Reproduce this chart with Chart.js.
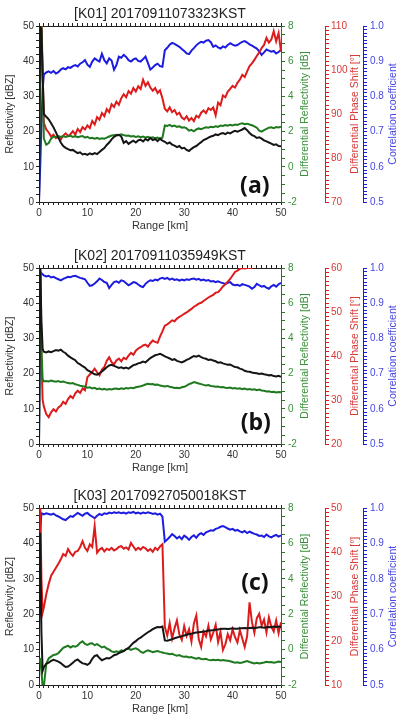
<!DOCTYPE html>
<html>
<head>
<meta charset="utf-8">
<script src="https://cdn.jsdelivr.net/npm/chart.js@4.4.1/dist/chart.umd.min.js"></script>
<style>
  html, body { margin: 0; padding: 0; background: #fff; }
  body { width: 413px; height: 724px; position: relative; overflow: hidden; }
  canvas { position: absolute; left: 0; }
</style>
</head>
<body>
<canvas id="chartA" width="413" height="241" style="top:0px"></canvas>
<canvas id="chartB" width="413" height="241" style="top:242px"></canvas>
<canvas id="chartC" width="413" height="242" style="top:482px"></canvas>
<script>
// range gates [km]: 0 .. 0.75 by 0.25, then 1 .. 50 by 0.5
const rangeKm = [0, 0.25, 0.5, 0.75,
  1, 1.5, 2, 2.5, 3, 3.5, 4, 4.5, 5, 5.5,
  6, 6.5, 7, 7.5, 8, 8.5, 9, 9.5, 10, 10.5,
  11, 11.5, 12, 12.5, 13, 13.5, 14, 14.5, 15, 15.5,
  16, 16.5, 17, 17.5, 18, 18.5, 19, 19.5, 20, 20.5,
  21, 21.5, 22, 22.5, 23, 23.5, 24, 24.5, 25, 25.5,
  26, 26.5, 27, 27.5, 28, 28.5, 29, 29.5, 30, 30.5,
  31, 31.5, 32, 32.5, 33, 33.5, 34, 34.5, 35, 35.5,
  36, 36.5, 37, 37.5, 38, 38.5, 39, 39.5, 40, 40.5,
  41, 41.5, 42, 42.5, 43, 43.5, 44, 44.5, 45, 45.5,
  46, 46.5, 47, 47.5, 48, 48.5, 49, 49.5, 50];

// ---- (a) K01 ----
const aZh = [0, 50, 49, 36,
  25, 24.2, 23.5, 22.4, 21.2, 19.8, 18.3, 16.9, 15.9, 15.4,
  15.0, 14.7, 14.8, 14.3, 13.9, 14.1, 13.5, 13.7, 13.4, 13.8,
  13.5, 13.9, 13.6, 14.2, 14.8, 15.3, 16.2, 16.9, 17.8, 18.5,
  18.9, 19.1, 18.6, 16.8, 17.3, 16.5, 17.0, 17.4, 16.9, 17.5,
  17.7, 17.2, 17.9, 17.5, 18.2, 17.6, 17.9, 17.3, 18.0, 17.4,
  17.1, 16.6, 16.9, 16.3, 16.0, 15.6, 15.9, 15.2, 15.4, 14.8,
  14.5, 15.1, 15.6, 15.9, 16.5, 17.0, 17.6, 17.9, 18.3, 18.6,
  18.8, 19.2, 19.0, 19.4, 19.6, 19.3, 19.7, 19.5, 19.9, 20.2,
  20.0, 20.3, 20.6, 21.0, 20.4, 19.6, 19.0, 18.7, 18.2, 18.4,
  18.0, 17.5, 17.2, 16.9, 16.6, 16.2, 16.4, 15.9, 15.8];
const aZdr = [-2, 8, 8, 5,
  1.6, 1.25, 1.35, 1.6, 1.72, 1.68, 1.75, 1.7, 1.74, 1.69,
  1.73, 1.76, 1.7, 1.74, 1.68, 1.72, 1.75, 1.66, 1.7, 1.62,
  1.65, 1.6, 1.64, 1.58, 1.62, 1.6, 1.66, 1.72, 1.78, 1.8,
  1.82, 1.79, 1.84, 1.8, 1.76, 1.78, 1.72, 1.75, 1.7, 1.73,
  1.68, 1.72, 1.66, 1.7, 1.64, 1.68, 1.62, 1.66, 1.6, 1.65,
  2.35, 2.32, 2.38, 2.3, 2.34, 2.27, 2.3, 2.22, 2.25, 2.18,
  2.05, 2.1, 2.02, 2.12, 2.18, 2.14, 2.2, 2.25, 2.22, 2.28,
  2.25, 2.3, 2.27, 2.35, 2.32, 2.37, 2.33, 2.38, 2.35, 2.4,
  2.38, 2.44, 2.47, 2.42, 2.45, 2.4, 2.36, 2.3, 2.22, 2.05,
  2.0, 2.08, 2.15, 2.22, 2.25, 2.2, 2.26, 2.23, 2.28];
const aPhi = [112, 112, 112, 100,
  88, 86.5, 85.8, 84.9, 85.3, 84.5, 84.8, 84.2, 85.1, 85.6,
  85.0, 85.4, 86.1, 85.3, 86.6, 85.9, 87.0, 86.5, 87.4, 86.8,
  88.4, 87.6, 89.3, 88.7, 90.2, 89.5, 91.1, 90.4, 92.2, 91.6,
  92.8, 92.1, 93.6, 94.5, 93.8, 95.2, 94.6, 95.9, 95.1, 96.3,
  95.7, 97.8, 96.4, 97.2, 96.0, 95.3, 95.9, 94.8, 95.4, 93.6,
  91.2, 90.6, 91.5, 90.4, 90.9, 89.9, 90.3, 89.2, 88.8, 89.5,
  88.5, 89.1, 88.4, 89.6, 89.2, 90.3, 90.8, 90.2, 91.3, 90.9,
  91.5, 89.7, 92.6, 92.0, 94.2, 93.8, 95.1, 95.7, 96.4, 96.0,
  97.1, 97.8, 98.9, 98.4, 99.7, 100.9, 101.5, 102.3, 103.2, 104.0,
  105.0, 105.7, 107.3, 106.2, 106.9, 108.8, 106.5, 108.4, 104.2];
const aRho = [0.5, 0.6, 0.72, 0.82,
  0.862, 0.868, 0.871, 0.867, 0.872, 0.865, 0.869, 0.876, 0.88, 0.877,
  0.883, 0.881, 0.886, 0.889, 0.885, 0.893, 0.897, 0.903, 0.89, 0.884,
  0.899, 0.908, 0.903, 0.899, 0.921, 0.903, 0.894, 0.908, 0.902, 0.876,
  0.889, 0.913, 0.91, 0.918, 0.912, 0.903, 0.899, 0.905, 0.908, 0.901,
  0.899, 0.906, 0.913, 0.895, 0.876, 0.882, 0.889, 0.893, 0.886, 0.884,
  0.931, 0.938, 0.947, 0.952, 0.949, 0.945, 0.941, 0.935, 0.929, 0.922,
  0.92, 0.93, 0.937, 0.945, 0.951, 0.955, 0.953, 0.958, 0.96, 0.954,
  0.941, 0.945, 0.939, 0.936, 0.942, 0.939, 0.946, 0.951, 0.947, 0.944,
  0.946, 0.951, 0.955, 0.957, 0.953, 0.948, 0.944, 0.94, 0.936, 0.928,
  0.918, 0.925, 0.933, 0.93, 0.927, 0.929, 0.922, 0.926, 0.932];

// ---- (b) K02 ----
const bZh = [0, 50, 35, 27,
  26.2, 26.0, 26.3, 26.1, 26.4, 26.7, 26.5, 26.8, 26.2, 25.8,
  25.1, 24.6, 24.2, 23.8, 23.0, 22.6, 22.1, 21.7, 21.0, 20.6,
  20.2, 19.8, 19.7, 20.1, 20.6, 21.2, 21.8, 22.3, 22.5, 22.2,
  21.9, 21.6, 21.8, 21.5, 21.7, 21.4, 21.9, 22.4, 22.6, 22.9,
  23.1, 23.4, 23.2, 23.8, 24.4, 24.8, 25.2, 25.4, 25.6, 25.3,
  24.9, 24.6, 24.3, 23.9, 24.1, 23.6, 23.4, 23.2, 23.5, 23.9,
  24.2, 24.6, 25.0, 24.8, 25.1, 24.7, 24.4, 24.2, 23.9, 24.0,
  23.7, 23.5, 23.1, 23.2, 22.9, 22.7, 22.5, 22.6, 22.2, 21.9,
  21.8, 21.4, 21.2, 20.8, 20.6, 20.5, 20.3, 20.2, 20.1, 19.9,
  20.0, 19.8, 19.7, 19.5, 19.6, 19.3, 19.2, 19.4, 19.1];
const bZdr = [-2, 8, 3.5, 1.7,
  1.56, 1.58, 1.55, 1.6, 1.57, 1.54, 1.58, 1.52, 1.55, 1.5,
  1.47, 1.44, 1.46, 1.39, 1.36, 1.31, 1.28, 1.25, 1.2, 1.22,
  1.16, 1.19, 1.12, 1.15, 1.1, 1.13, 1.08, 1.12, 1.1, 1.14,
  1.15, 1.11, 1.16, 1.13, 1.18, 1.15, 1.2, 1.17, 1.22, 1.25,
  1.28, 1.32, 1.38, 1.42, 1.39, 1.41, 1.36, 1.38, 1.32, 1.3,
  1.27, 1.3, 1.25, 1.22, 1.18, 1.2, 1.17, 1.22, 1.25, 1.32,
  1.4, 1.45, 1.52, 1.48, 1.44, 1.4, 1.36, 1.33, 1.35, 1.3,
  1.28, 1.25, 1.27, 1.22, 1.24, 1.2, 1.18, 1.21, 1.16, 1.18,
  1.14, 1.17, 1.12, 1.15, 1.1, 1.12, 1.08, 1.11, 1.06, 1.09,
  1.04, 1.02, 0.98, 1.0, 0.95, 0.97, 0.93, 0.96, 0.94];
const bPhi = [62, 62, 40, 30,
  28.5, 26.8, 26.1, 27.2, 27.9, 27.4, 28.3, 28.7, 29.6, 29.1,
  30.2, 30.9, 30.4, 31.5, 32.1, 31.6, 32.6, 32.2, 35.2, 35.8,
  36.4, 37.1, 36.3, 35.6, 36.9, 37.5, 38.9, 39.7, 38.6, 38.1,
  39.0, 39.4, 38.8, 39.6, 39.3, 40.1, 40.7, 40.3, 41.2, 41.7,
  42.0, 42.4, 42.6, 42.1, 42.9, 43.5, 43.2, 43.0, 44.4, 45.6,
  46.9, 47.2, 47.6, 48.1, 47.9, 48.5, 48.9, 49.2, 49.6, 49.9,
  50.3, 50.7, 51.2, 51.5, 51.9, 52.1, 52.5, 52.9, 53.3, 53.6,
  53.9, 54.4, 54.5, 55.1, 55.8, 56.3, 56.9, 57.5, 58.3, 59.1,
  59.4, 59.8, 60.0, 59.9, 60.0, 60.0, 60.0, 61, 62, 62.5,
  63, 63.5, 64, 64.5, 65, 65.5, 66, 66.5, 67];
const bRho = [0.5, 0.98, 0.985, 0.982,
  0.979, 0.976, 0.978, 0.973, 0.975, 0.971, 0.968, 0.965, 0.969, 0.972,
  0.975, 0.974, 0.977, 0.978, 0.975, 0.972, 0.97, 0.968, 0.958, 0.949,
  0.951, 0.956, 0.962, 0.97, 0.966, 0.96, 0.958, 0.943, 0.952, 0.96,
  0.962, 0.958, 0.965, 0.963, 0.957, 0.951, 0.955, 0.96, 0.958, 0.953,
  0.948, 0.946, 0.955, 0.961, 0.965, 0.963, 0.967, 0.965, 0.97, 0.972,
  0.969, 0.972, 0.967, 0.97, 0.966, 0.968, 0.964, 0.967, 0.965, 0.968,
  0.966, 0.969, 0.97, 0.967, 0.969, 0.965, 0.967, 0.964, 0.966, 0.962,
  0.963, 0.96, 0.962, 0.959, 0.957, 0.955, 0.958, 0.96, 0.953, 0.951,
  0.952, 0.949, 0.954, 0.952, 0.95, 0.947, 0.941, 0.946, 0.955, 0.951,
  0.947, 0.949, 0.944, 0.941, 0.948, 0.952, 0.947, 0.954, 0.958];

// ---- (c) K03 ----
const cZh = [16, 43, 15, 4,
  5, 6.0, 6.3, 6.8, 7.1, 6.9, 6.6, 6.2, 5.6, 5.1,
  5.2, 5.7, 6.3, 6.9, 7.2, 6.6, 6.1, 6.0, 5.7, 6.2,
  7.4, 8.2, 8.4, 7.6, 7.0, 7.3, 7.6, 7.5, 7.9, 8.4,
  8.6, 9.0, 9.3, 9.6, 10.1, 10.5, 11.2, 11.9, 12.4, 13.0,
  13.4, 13.9, 14.4, 14.9, 15.3, 15.8, 16.1, 16.4, 16.3, 16.5,
  12.6, 12.5, 12.7, 12.9, 13.2, 13.4, 13.6, 13.8, 14.0, 14.2,
  14.4, 14.5, 14.7, 14.8, 14.9, 15.0, 15.1, 15.2, 15.4, 15.4,
  15.5, 15.6, 15.7, 15.8, 15.9, 15.9, 15.8, 15.9, 16.0, 15.9,
  15.9, 16.0, 16.0, 16.1, 16.0, 16.1, 16.2, 16.1, 16.2, 16.3,
  16.3, 16.2, 16.3, 16.4, 16.3, 16.5, 16.4, 16.5, 16.4];
const cZdr = [-0.6, -0.55, -1.2, -2.1,
  -2.1, -0.8, -0.5, -0.4, -0.3, -0.28, -0.2, -0.05, 0.1, 0.16,
  0.22, 0.12, 0.2, 0.16, 0.24, 0.38, 0.47, 0.32, 0.26, 0.34,
  0.36, 0.25, 0.31, 0.22, 0.12, 0.17, 0.06, 0.0, -0.1, -0.14,
  -0.09, -0.14, -0.04, -0.08, 0.02, 0.06, -0.02, 0.04, 0.07, 0.0,
  -0.12, -0.19, -0.1, -0.04, -0.09, -0.15, -0.11, -0.08, -0.13, -0.16,
  -0.2, -0.22, -0.26, -0.24, -0.3, -0.34, -0.31, -0.38, -0.41, -0.39,
  -0.44, -0.42, -0.48, -0.51, -0.47, -0.53, -0.55, -0.52, -0.58, -0.6,
  -0.57, -0.6, -0.58, -0.62, -0.59, -0.61, -0.63, -0.66, -0.7, -0.74,
  -0.72, -0.76, -0.73, -0.69, -0.65, -0.7, -0.74, -0.78, -0.75, -0.79,
  -0.76, -0.73, -0.69, -0.72, -0.7, -0.74, -0.71, -0.68, -0.7];
const cPhi = [52, 52, 34, 26.4,
  27.5, 30.5, 32.8, 34.7, 35.6, 36.5, 37.4, 38.4, 39.6, 39.2,
  40.7, 39.8, 39.2, 40.1, 40.3, 41.2, 42.5, 41.0, 40.3, 41.8,
  41.2, 45.9, 39.9, 40.6, 41.0, 40.2, 40.8, 40.5, 41.0, 40.4,
  40.7, 41.2, 41.4, 40.8, 41.1, 40.6, 42.1, 41.3, 40.5, 41.0,
  40.6, 41.2, 40.9, 40.3, 40.7, 40.1, 41.0, 40.5, 41.3, 41.8,
  23.1, 21.2, 24.0, 20.5, 22.8, 24.6, 21.4, 20.2, 23.3, 21.1,
  22.6, 19.8, 23.9, 25.7, 20.4, 18.6, 22.1, 21.0, 23.4, 20.3,
  21.8, 23.6, 19.7, 22.0, 17.9, 19.2, 21.5, 20.1, 22.6, 20.8,
  19.6, 22.4, 20.5, 18.6, 21.0, 28.7, 24.2, 21.8, 25.1, 26.1,
  23.4, 24.8, 21.9, 25.3, 23.2, 22.1, 24.6, 21.7, 24.2];
const cRho = [0.945, 0.935, 0.985, 0.984,
  0.982, 0.985, 0.983, 0.981, 0.984, 0.979, 0.976, 0.972, 0.968, 0.966,
  0.972, 0.977, 0.975, 0.981, 0.986, 0.982, 0.978, 0.984, 0.986, 0.98,
  0.976, 0.971, 0.978, 0.983, 0.98, 0.985, 0.983, 0.987, 0.985, 0.988,
  0.986, 0.988, 0.985, 0.987, 0.984, 0.988, 0.986, 0.989, 0.985, 0.987,
  0.984, 0.987, 0.985, 0.988, 0.986, 0.983, 0.985, 0.981, 0.984, 0.976,
  0.905, 0.911, 0.918, 0.926, 0.921, 0.914, 0.919, 0.912, 0.922, 0.917,
  0.91, 0.918, 0.923, 0.916, 0.925, 0.929, 0.924, 0.931, 0.934, 0.937,
  0.936, 0.941, 0.943, 0.947, 0.949, 0.946, 0.942, 0.939, 0.941, 0.936,
  0.938, 0.934, 0.931, 0.935, 0.929, 0.933, 0.93, 0.927, 0.925, 0.921,
  0.922, 0.918, 0.925, 0.92, 0.917, 0.921, 0.924, 0.919, 0.923];

const FONT = '"Liberation Sans", Arial, sans-serif';
const BLACK = '#151515', GREEN = '#1f7a1f', RED = '#dc1c1c', BLUE = '#1c1ce0';
const GREEN_T = '#3a903a', RED_T = '#d83a3a', BLUE_T = '#4646e0';

// titles, right axis titles (read bottom-to-top) and panel tag
const panelText = {
  id: 'panelText',
  afterDraw(chart, args, opts) {
    const ctx = chart.ctx;
    const area = chart.chartArea;
    ctx.save();
    ctx.textAlign = 'center';
    ctx.textBaseline = 'middle';
    ctx.fillStyle = '#222';
    ctx.font = '14px ' + FONT;
    ctx.fillText(opts.title, (area.left + area.right) / 2, 14);

    ctx.font = '10.5px ' + FONT;
    opts.sides.forEach(([id, text, color, dx]) => {
      const s = chart.scales[id];
      ctx.save();
      ctx.translate(s.left + dx, (s.top + s.bottom) / 2);
      ctx.rotate(-Math.PI / 2);
      ctx.fillStyle = color;
      ctx.fillText(text, 0, 0);
      ctx.restore();
    });

    ctx.font = 'bold 23px "Open Sans", "Noto Sans", sans-serif';
    ctx.fillStyle = '#111';
    ctx.fillText(opts.tag, chart.scales.x.getPixelForValue(opts.tagAt[0]),
      chart.scales.yZ.getPixelForValue(opts.tagAt[1]));
    ctx.restore();
  }
};

function sideAxis(color, textColor, min, max, step, isMajor, fmt, width, pad) {
  return {
    position: 'right', min: min, max: max,
    ticks: {
      stepSize: step, autoSkip: false, color: textColor, padding: pad,
      font: { size: 10, family: FONT },
      callback: v => isMajor(v) ? fmt(v) : ''
    },
    grid: { drawOnChartArea: false, tickLength: 4, color: color },
    border: { color: color, width: 1 },
    afterFit: s => { s.width = width; }
  };
}

function makeChart(canvasId, title, tag, tagAt, phiRange, zh, zdr, phi, rho) {
  const line = (label, ys, color, axis) => ({
    label: label,
    data: rangeKm.map((x, i) => ({ x: x, y: ys[i] })),
    borderColor: color, borderWidth: 2, pointRadius: 0, tension: 0,
    yAxisID: axis
  });
  const tenth = v => Math.abs(v * 10 - Math.round(v * 10)) < 1e-6;

  new Chart(document.getElementById(canvasId), {
    type: 'line',
    data: {
      datasets: [
        line('Reflectivity', zh, BLACK, 'yZ'),
        line('Differential Reflectivity', zdr, GREEN, 'yD'),
        line('Differential Phase Shift', phi, RED, 'yP'),
        line('Correlation coefficient', rho, BLUE, 'yR')
      ]
    },
    options: {
      responsive: false,
      animation: false,
      devicePixelRatio: 1,
      layout: { padding: { top: 23, left: 0, right: 0, bottom: 0 } },
      plugins: {
        legend: { display: false },
        tooltip: { enabled: false },
        panelText: {
          title: title, tag: tag, tagAt: tagAt,
          sides: [
            ['yD', 'Differential Reflectivity [dB]', GREEN_T, 24],
            ['yP', 'Differential Phase Shift [\u00b0]', RED_T, 30],
            ['yR', 'Correlation coefficient', BLUE_T, 30]
          ]
        }
      },
      scales: {
        x: {
          type: 'linear', position: 'bottom', min: 0, max: 50,
          ticks: {
            stepSize: 1, autoSkip: false, maxRotation: 0, color: '#333', padding: 2,
            font: { size: 10, family: FONT },
            callback: v => v % 10 === 0 ? v : ''
          },
          grid: { drawOnChartArea: false, tickLength: 3, color: '#222' },
          border: { color: '#222', width: 1 },
          title: {
            display: true, text: 'Range [km]', color: '#333',
            font: { size: 11, family: FONT }, padding: { top: 0, bottom: 8 }
          },
          afterFit: s => { s.height = 39; }
        },
        xTop: {
          type: 'linear', position: 'top', min: 0, max: 50,
          ticks: { display: false, stepSize: 1, autoSkip: false },
          grid: { drawOnChartArea: false, tickLength: 3, color: '#222' },
          border: { color: '#222', width: 1 },
          afterFit: s => { s.height = 3; }
        },
        yZ: {
          position: 'left', min: 0, max: 50,
          ticks: {
            stepSize: 2, autoSkip: false, color: '#333', padding: 2,
            font: { size: 10, family: FONT },
            callback: v => v % 10 === 0 ? v : ''
          },
          grid: { drawOnChartArea: false, tickLength: 3, color: '#222' },
          border: { color: '#222', width: 1 },
          title: {
            display: true, text: 'Reflectivity [dBZ]', color: '#333',
            font: { size: 10.5, family: FONT }, padding: { top: 4, bottom: 0 }
          },
          afterFit: s => { s.width = 39; }
        },
        yD: sideAxis(GREEN, GREEN_T, -2, 8, 0.5, v => Number.isInteger(v) && v % 2 === 0, v => v, 44, 3),
        yP: sideAxis(RED, RED_T, phiRange[0], phiRange[1], 1, v => v % 10 === 0, v => v, 38, 2),
        yR: sideAxis(BLUE, BLUE_T, 0.5, 1.0, 0.01, tenth, v => v.toFixed(1), 50, 3)
      }
    },
    plugins: [panelText]
  });
}

makeChart('chartA', '[K01] 20170911073323KST', '(a)', [44.6, 4.5], [70, 110], aZh, aZdr, aPhi, aRho);
makeChart('chartB', '[K02] 20170911035949KST', '(b)', [44.8, 5.9], [20, 60], bZh, bZdr, bPhi, bRho);
makeChart('chartC', '[K03] 20170927050018KST', '(c)', [44.6, 28.6], [10, 50], cZh, cZdr, cPhi, cRho);
</script>
</body>
</html>
